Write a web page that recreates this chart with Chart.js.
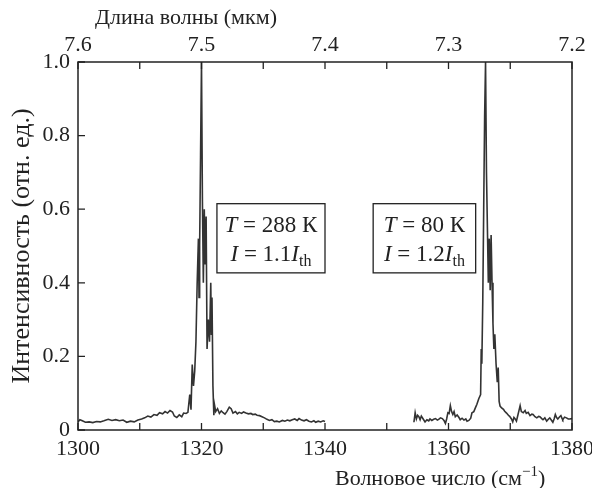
<!DOCTYPE html>
<html>
<head>
<meta charset="utf-8">
<script src="https://cdn.jsdelivr.net/npm/chart.js@4.4.0/dist/chart.umd.min.js"></script>
<style>
  html, body { margin: 0; background: #fff; }
</style>
</head>
<body>
<canvas id="c" width="592" height="488"></canvas>
<script>
// spectrum at 288 K (wavenumber, cm-1 / relative intensity)
const wn288 = [1300.0, 1300.3, 1300.7, 1301.2, 1301.8, 1302.4, 1303.0, 1303.6, 1304.2, 1304.9,
  1305.5, 1306.1, 1306.7, 1307.3, 1307.9, 1308.5, 1309.1, 1309.7, 1310.3, 1310.8,
  1311.3, 1311.8, 1312.3, 1312.8, 1313.2, 1313.7, 1314.1, 1314.5, 1314.9, 1315.3,
  1315.6, 1316.0, 1316.4, 1316.8, 1317.1, 1317.5, 1317.8, 1318.1, 1318.3, 1318.5,
  1318.7, 1318.9, 1319.1, 1319.3, 1319.5, 1319.6, 1319.7, 1319.85, 1320.0, 1320.15,
  1320.3, 1320.45, 1320.6, 1320.75, 1320.9, 1321.1, 1321.3, 1321.5, 1321.6, 1321.7,
  1321.85, 1322.0, 1322.1, 1322.3, 1322.6, 1322.9, 1323.2, 1323.5, 1323.8, 1324.1,
  1324.5, 1324.8, 1325.1, 1325.5, 1325.8, 1326.1, 1326.5, 1326.8, 1327.2, 1327.6,
  1328.0, 1328.3, 1328.7, 1329.0, 1329.4, 1329.8, 1330.2, 1330.6, 1331.0, 1331.4,
  1331.8, 1332.2, 1332.6, 1333.1, 1333.5, 1333.9, 1334.3, 1334.7, 1335.1, 1335.5,
  1335.8, 1336.2, 1336.6, 1337.0, 1337.4, 1337.8, 1338.2, 1338.5, 1338.9, 1339.3,
  1339.7, 1340.0];
const int288 = [0.022, 0.028, 0.025, 0.021, 0.022, 0.020, 0.023, 0.022, 0.025, 0.029,
  0.026, 0.028, 0.025, 0.027, 0.021, 0.024, 0.022, 0.027, 0.030, 0.033,
  0.038, 0.035, 0.042, 0.040, 0.047, 0.044, 0.050, 0.046, 0.053, 0.049,
  0.038, 0.034, 0.041, 0.036, 0.046, 0.045, 0.048, 0.096, 0.055, 0.178,
  0.120, 0.160, 0.240, 0.400, 0.520, 0.360, 0.500, 0.750, 1.000, 0.620,
  0.400, 0.600, 0.450, 0.580, 0.220, 0.300, 0.240, 0.400, 0.260, 0.360,
  0.120, 0.040, 0.069, 0.050, 0.058, 0.045, 0.052, 0.047, 0.043, 0.050,
  0.062, 0.058, 0.046, 0.050, 0.044, 0.048, 0.045, 0.049, 0.046, 0.044,
  0.045, 0.042, 0.043, 0.040, 0.039, 0.036, 0.033, 0.029, 0.026, 0.028,
  0.023, 0.024, 0.022, 0.026, 0.024, 0.027, 0.025, 0.028, 0.030, 0.026,
  0.031, 0.027, 0.025, 0.028, 0.024, 0.022, 0.025, 0.021, 0.024, 0.022,
  0.025, 0.023];

// spectrum at 80 K
const wn80 = [1354.4, 1354.6, 1354.8, 1355.0, 1355.2, 1355.4, 1355.6, 1355.9, 1356.2, 1356.5,
  1356.8, 1357.0, 1357.3, 1357.6, 1357.9, 1358.2, 1358.4, 1358.7, 1359.0, 1359.3,
  1359.5, 1359.7, 1359.9, 1360.1, 1360.3, 1360.5, 1360.7, 1360.9, 1361.1, 1361.4,
  1361.7, 1361.9, 1362.2, 1362.5, 1362.8, 1363.0, 1363.3, 1363.6, 1363.8, 1364.1,
  1364.4, 1364.6, 1364.9, 1365.2, 1365.3, 1365.4, 1365.55, 1365.7, 1365.85, 1366.0,
  1366.15, 1366.3, 1366.45, 1366.6, 1366.75, 1366.9, 1367.05, 1367.2, 1367.35, 1367.5,
  1367.7, 1367.9, 1368.05, 1368.2, 1368.35, 1368.6, 1368.9, 1369.1, 1369.4, 1369.7,
  1369.9, 1370.2, 1370.4, 1370.6, 1370.8, 1371.0, 1371.2, 1371.4, 1371.6, 1371.8,
  1372.1, 1372.4, 1372.6, 1372.9, 1373.2, 1373.5, 1373.7, 1374.0, 1374.3, 1374.6,
  1374.8, 1375.1, 1375.3, 1375.6, 1375.9, 1376.2, 1376.4, 1376.7, 1376.9, 1377.1,
  1377.3, 1377.5, 1377.7, 1378.0, 1378.2, 1378.4, 1378.5, 1378.8, 1379.1, 1379.4,
  1379.6, 1380.0];
const int80 = [0.021, 0.047, 0.030, 0.040, 0.036, 0.028, 0.038, 0.030, 0.022, 0.028,
  0.025, 0.030, 0.026, 0.029, 0.031, 0.027, 0.029, 0.033, 0.031, 0.025,
  0.018, 0.030, 0.047, 0.045, 0.066, 0.050, 0.042, 0.050, 0.036, 0.041,
  0.034, 0.028, 0.032, 0.027, 0.030, 0.024, 0.026, 0.032, 0.047, 0.050,
  0.062, 0.070, 0.085, 0.096, 0.220, 0.180, 0.350, 0.600, 0.850, 1.000,
  0.700, 0.550, 0.400, 0.520, 0.380, 0.530, 0.400, 0.290, 0.220, 0.260,
  0.180, 0.130, 0.170, 0.078, 0.065, 0.060, 0.056, 0.051, 0.046, 0.040,
  0.037, 0.030, 0.022, 0.034, 0.030, 0.024, 0.038, 0.052, 0.066, 0.050,
  0.047, 0.053, 0.045, 0.048, 0.039, 0.043, 0.042, 0.036, 0.033, 0.037,
  0.036, 0.031, 0.028, 0.033, 0.024, 0.030, 0.033, 0.026, 0.021, 0.030,
  0.042, 0.034, 0.030, 0.036, 0.039, 0.031, 0.028, 0.035, 0.033, 0.030,
  0.030, 0.031];

// labels inside the boxes
const boxTemps = ['288', '80'];
const boxCurrents = ['1.1', '1.2'];
// box corners in data units (x from, x to, y from, y to)
const boxPos = [[1322.5, 1340.0, 0.427, 0.615], [1347.8, 1364.4, 0.427, 0.615]];

const SERIF = "'Liberation Serif', 'DejaVu Serif', serif";
const INK = '#222';

function pts(xs, ys) {
  return xs.map((x, i) => ({ x: x, y: ys[i] }));
}

function drawRuns(ctx, runs, cx, y, size) {
  const fontOf = r => (r.it ? 'italic ' : '') + (r.sub || r.sup ? Math.round(size * 0.68) : size) + 'px ' + SERIF;
  let w = 0;
  runs.forEach(r => { ctx.font = fontOf(r); w += ctx.measureText(r.t).width; });
  let x = cx - w / 2;
  ctx.textAlign = 'left';
  ctx.textBaseline = 'alphabetic';
  runs.forEach(r => {
    ctx.font = fontOf(r);
    const dy = r.sub ? size * 0.22 : (r.sup ? -size * 0.38 : 0);
    ctx.fillText(r.t, x, y + dy);
    x += ctx.measureText(r.t).width;
  });
  return w;
}

const frame = {
  id: 'frame',
  afterDraw(chart) {
    const { ctx, chartArea: a, scales } = chart;
    ctx.save();
    ctx.strokeStyle = INK;
    ctx.lineWidth = 1.5;
    ctx.strokeRect(a.left, a.top, a.right - a.left, a.bottom - a.top);

    // inward ticks
    ctx.lineWidth = 1.3;
    ctx.beginPath();
    scales.x.ticks.forEach(t => {
      const px = scales.x.getPixelForValue(t.value);
      ctx.moveTo(px, a.bottom); ctx.lineTo(px, a.bottom - 7);
    });
    scales.x2.ticks.forEach(t => {
      const px = scales.x2.getPixelForValue(t.value);
      ctx.moveTo(px, a.top); ctx.lineTo(px, a.top + 7);
    });
    scales.y.ticks.forEach(t => {
      const py = scales.y.getPixelForValue(t.value);
      ctx.moveTo(a.left, py); ctx.lineTo(a.left + 7, py);
    });
    ctx.stroke();

    // annotation boxes
    ctx.fillStyle = INK;
    boxPos.forEach((b, i) => {
      const x0 = scales.x.getPixelForValue(b[0]), x1 = scales.x.getPixelForValue(b[1]);
      const y0 = scales.y.getPixelForValue(b[2]), y1 = scales.y.getPixelForValue(b[3]);
      ctx.lineWidth = 1.3;
      ctx.clearRect(x0, y1, x1 - x0, y0 - y1);
      ctx.strokeRect(x0, y1, x1 - x0, y0 - y1);
      const cx = (x0 + x1) / 2;
      drawRuns(ctx, [{ t: 'T', it: true }, { t: ' = ' + boxTemps[i] + ' К' }], cx, y1 + 28, 23);
      drawRuns(ctx, [{ t: 'I', it: true }, { t: ' = ' + boxCurrents[i] }, { t: 'I', it: true }, { t: 'th', sub: true }], cx, y1 + 57, 23);
    });

    // axis titles for x axes
    ctx.textAlign = 'left';
    ctx.textBaseline = 'alphabetic';
    ctx.font = '22px ' + SERIF;
    ctx.fillText('Длина волны (мкм)', a.left + 17, 24);
    const bx = a.left + 257, by = 485;
    ctx.fillText('Волновое число (см', bx, by);
    let w = ctx.measureText('Волновое число (см').width;
    ctx.font = '15px ' + SERIF;
    ctx.fillText('−1', bx + w, by - 9);
    w += ctx.measureText('−1').width;
    ctx.font = '22px ' + SERIF;
    ctx.fillText(')', bx + w, by);
    ctx.restore();
  }
};

const tickFont = { family: SERIF, size: 22 };
const noSidePad = s => { s.paddingLeft = 0; s.paddingRight = 0; };

new Chart(document.getElementById('c'), {
  type: 'line',
  data: {
    datasets: [
      { data: pts(wn288, int288), borderColor: '#333', borderWidth: 1.6, pointRadius: 0, tension: 0 },
      { data: pts(wn80, int80), borderColor: '#333', borderWidth: 1.6, pointRadius: 0, tension: 0 }
    ]
  },
  options: {
    responsive: false,
    animation: false,
    layout: { padding: { right: 20 } },
    plugins: { legend: { display: false }, tooltip: { enabled: false } },
    scales: {
      x: {
        type: 'linear', position: 'bottom', min: 1300, max: 1380,
        grid: { display: false, drawTicks: false }, border: { display: false },
        ticks: {
          stepSize: 10, autoSkip: false, maxRotation: 0, padding: 6, color: INK, font: tickFont,
          callback: v => (v % 20 === 0 ? String(v) : '')
        },
        afterFit: s => { s.height = 58; noSidePad(s); }
      },
      x2: {
        type: 'linear', position: 'top', min: 7.2, max: 7.6, reverse: true,
        grid: { display: false, drawTicks: false }, border: { display: false },
        ticks: {
          stepSize: 0.05, autoSkip: false, maxRotation: 0, padding: 4, color: INK, font: tickFont,
          callback: v => (Math.abs(v * 10 - Math.round(v * 10)) < 1e-6 ? v.toFixed(1) : '')
        },
        afterFit: s => { s.height = 62; noSidePad(s); }
      },
      y: {
        min: 0, max: 1,
        grid: { display: false, drawTicks: false }, border: { display: false },
        ticks: {
          stepSize: 0.2, padding: 8, color: INK, font: tickFont,
          callback: v => (v === 0 ? '0' : v.toFixed(1))
        },
        title: { display: true, text: 'Интенсивность (отн. ед.)', color: INK, font: { family: SERIF, size: 26, lineHeight: 1.0 }, padding: { top: 9, bottom: 0 } },
        afterFit: s => { s.width = 78; }
      }
    }
  },
  plugins: [frame]
});
</script>
</body>
</html>
